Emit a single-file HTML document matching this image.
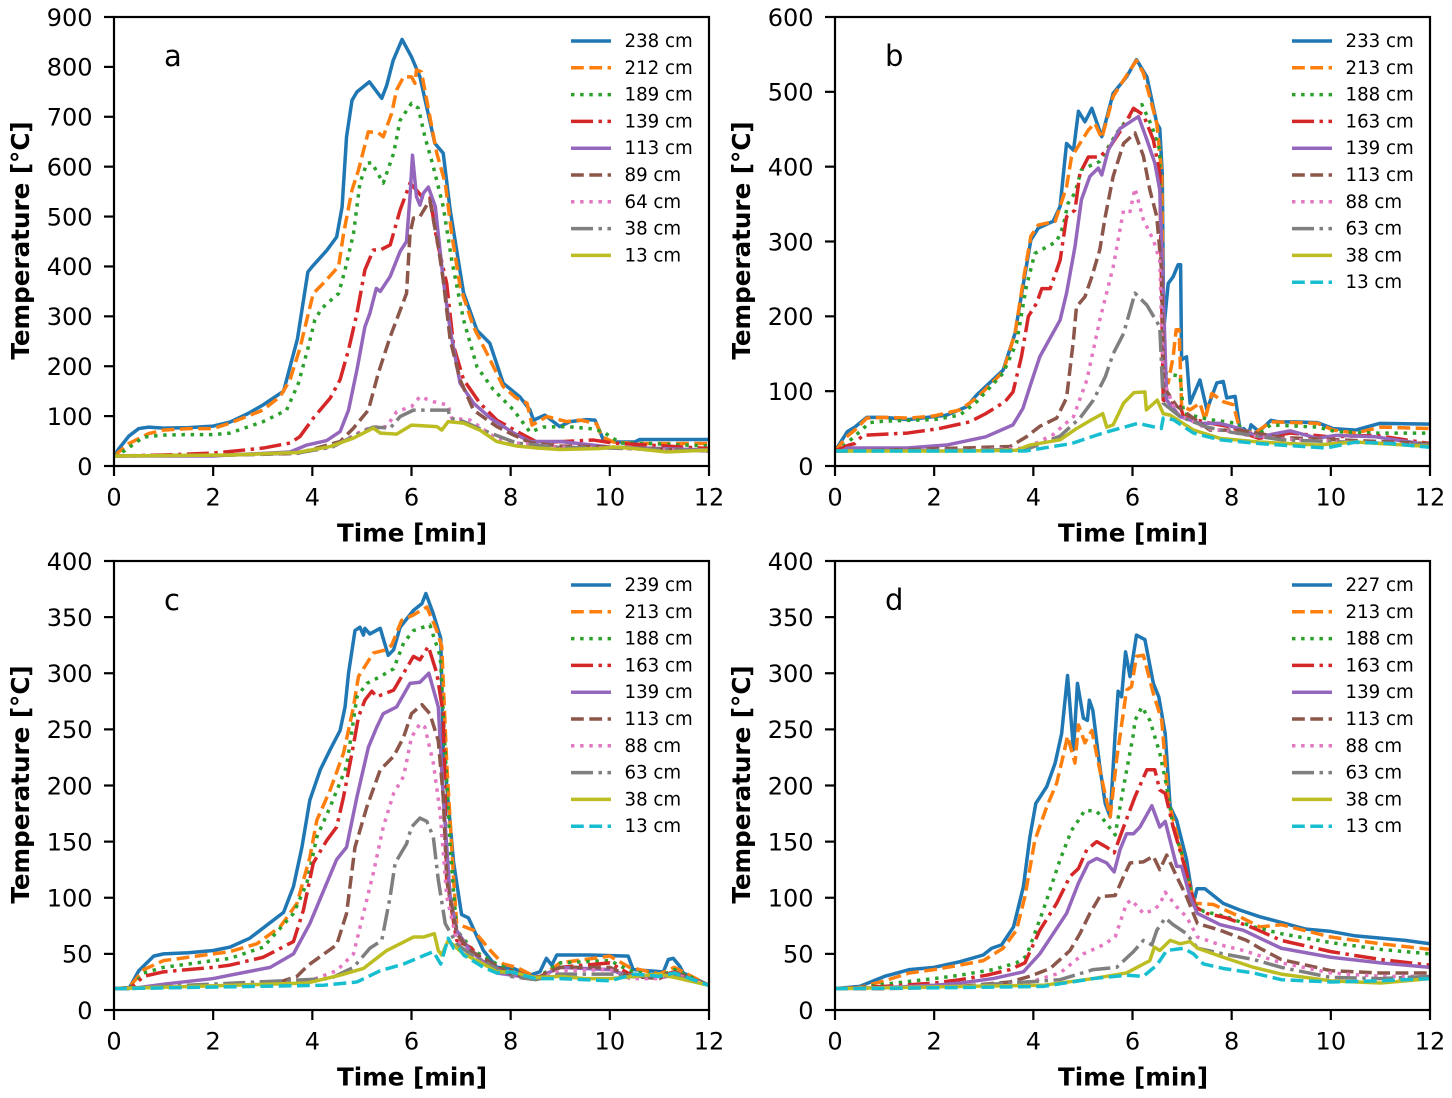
<!DOCTYPE html>
<html lang="en">
<head>
<meta charset="utf-8">
<title>Temperature vs time panels</title>
<style>
html,body{margin:0;padding:0;background:#fff;}
svg{display:block;}
text{font-family:"DejaVu Sans","Liberation Sans",sans-serif;fill:#000;}
</style>
</head>
<body>
<svg id="chart" xmlns="http://www.w3.org/2000/svg" width="1452" height="1098" viewBox="0 0 1452 1098"></svg>
<script>
// Shared axis data
const xTicks = [0,2,4,6,8,10,12];
const yTicksA = [0,100,200,300,400,500,600,700,800,900];
const yTicksB = [0,100,200,300,400,500,600];
const yTicksCD = [0,50,100,150,200,250,300,350,400];
const legendLabelsA = ['238 cm','212 cm','189 cm','139 cm','113 cm','89 cm','64 cm','38 cm','13 cm'];
const legendLabelsB = ['233 cm','213 cm','188 cm','163 cm','139 cm','113 cm','88 cm','63 cm','38 cm','13 cm'];
const legendLabelsC = ['239 cm','213 cm','188 cm','163 cm','139 cm','113 cm','88 cm','63 cm','38 cm','13 cm'];
const legendLabelsD = ['227 cm','213 cm','188 cm','163 cm','139 cm','113 cm','88 cm','63 cm','38 cm','13 cm'];

// Panel a
const a1T=[0,.1,.3,.5,.7,1,1.5,2,2.34,2.7,3,3.42,3.7,3.91,4.0,4.29,4.49,4.6,4.69,4.8,4.9,5.15,5.4,5.5,5.63,5.81,6.0,6.17,6.47,6.64,6.78,7.05,7.32,7.58,7.85,8.19,8.39,8.46,8.69,8.99,9.2,9.53,9.7,9.8,9.87,10.14,10.5,10.6,12];
const a1V=[20,35,60,75,78,76,77,80,88,105,122,150,255,389,400,432,459,519,660,733,750,770,737,763,813,855,820,780,647,627,513,347,272,246,166,138,112,92,102,79,89,93,92,69,52,48,48,53,53];
const a2T=[0,.3,.7,1,1.5,2,2.34,3,3.35,3.55,3.75,3.92,4.02,4.22,4.53,4.63,4.8,4.93,5.13,5.33,5.43,5.6,5.7,5.84,6,6.07,6.1,6.2,6.37,6.51,6.68,6.81,6.98,7.25,7.52,7.85,8.12,8.33,8.43,8.73,9.13,9.4,9.73,9.84,10.07,10.5,12];
const a2V=[20,45,65,72,75,75,86,112,139,173,236,306,346,366,400,466,553,593,670,668,660,707,754,780,780,767,794,790,700,627,567,466,360,279,226,159,136,126,82,99,89,92,85,59,48,45,45];
const a3T=[0,.2,.6,1,1.5,2,2.34,3.01,3.48,3.72,3.92,4.05,4.19,4.53,4.66,4.83,4.96,5.1,5.2,5.43,5.64,5.77,6,6.14,6.27,6.44,6.64,6.81,7.05,7.32,7.65,8.06,8.39,8.66,9.13,9.6,9.87,10,10.24,10.8,12];
const a3V=[20,30,58,62,63,63,66,89,112,166,239,293,316,346,393,466,567,607,608,567,627,693,727,717,660,600,520,413,293,199,153,112,68,78,79,75,69,59,46,45,40];
const a4T=[0,1,2,2.34,3.01,3.55,3.75,4.02,4.36,4.56,4.73,4.9,5.06,5.23,5.37,5.57,5.77,5.97,6.1,6.21,6.37,6.51,6.71,6.85,7.05,7.38,7.72,8.26,8.53,8.79,9.67,10.07,12];
const a4V=[20,22,26,29,36,46,59,96,136,173,233,306,393,433,433,443,513,567,553,540,540,453,366,240,173,126,92,62,48,48,52,46,35];
const a5T=[0,1,2,2.34,3.55,3.89,4.29,4.56,4.73,4.9,5.06,5.16,5.29,5.37,5.57,5.77,5.9,5.97,6.02,6.1,6.17,6.24,6.34,6.48,6.64,6.78,6.98,7.25,7.59,8.06,8.39,9,10,12];
const a5V=[20,20,20,22,28,42,51,69,112,193,279,306,356,350,380,430,450,540,623,540,523,547,559,520,373,273,166,126,96,66,49,49,38,32];
const a6T=[0,2.34,3.69,4.56,4.83,5.13,5.33,5.57,5.9,5.97,6.04,6.17,6.37,6.54,6.64,6.78,6.98,7.25,7.72,8.06,8.39,9,10,12];
const a6V=[20,22,25,49,76,112,186,259,346,466,497,500,533,440,373,253,173,112,79,62,47,40,38,30];
const a7T=[0,2.34,3.7,4.4,5.03,5.23,5.5,5.7,6,6.17,6.44,6.74,6.81,7.18,7.72,8.12,9,10,12];
const a7V=[20,22,26,38,72,78,79,109,119,139,129,122,96,92,55,46,38,36,30];
const a8T=[0,2.34,3.7,4.4,5.03,5.23,5.57,5.77,6.04,6.44,6.74,6.78,7.05,7.59,8.12,9,10,12];
const a8V=[20,22,26,38,70,78,76,99,112,112,112,96,89,66,46,37,36,30];
const a9T=[0,2.34,3.69,4.36,4.83,5.23,5.37,5.7,6,6.51,6.61,6.74,7.05,7.38,7.72,8.12,8.53,9,9.8,10.07,10.5,11.15,12];
const a9V=[20,22,27,39,56,76,66,64,82,79,72,89,86,72,49,40,36,33,35,38,35,28,32];

// Panel b
const b1T=[0,.25,.4,.64,1,1.47,2,2.25,2.65,2.86,3.39,3.63,3.8,3.95,4.1,4.4,4.54,4.67,4.81,4.91,5.04,5.18,5.38,5.61,5.88,6.08,6.29,6.49,6.55,6.6,6.63,6.72,6.82,6.92,6.97,6.99,7.09,7.16,7.36,7.5,7.7,7.83,7.9,8.07,8.17,8.24,8.35,8.39,8.55,8.79,8.95,9.26,9.73,10.05,10.5,10.99,12];
const b1V=[20,46,52,65,65,62,66,68,79,95,128,177,244,302,318,327,347,431,422,474,460,478,440,498,520,543,520,458,451,391,182,244,253,269,269,142,146,84,115,75,111,113,91,93,48,50,44,55,46,61,59,59,58,50,48,57,56];
const b2T=[0,.25,.4,.64,1,1.5,2,2.52,2.86,3.39,3.63,3.8,3.95,4.1,4.44,4.67,4.77,5.11,5.24,5.38,5.61,5.95,6.08,6.22,6.49,6.59,6.63,6.72,6.82,6.88,6.94,6.99,7.16,7.36,7.46,7.6,7.83,8.03,8.17,8.47,8.79,9.73,10.05,10.5,11,12];
const b2V=[20,40,48,64,65,64,67,75,91,126,177,249,307,322,327,373,413,449,458,438,494,529,542,525,458,391,124,111,146,182,182,80,75,84,62,97,86,82,48,44,59,57,48,44,52,50];
const b3T=[0,.2,.4,.7,1,2,2.52,2.86,3.39,3.66,3.86,4.03,4.47,4.6,4.7,4.84,4.97,5.34,5.68,6.02,6.19,6.39,6.55,6.62,6.96,7.03,7.56,8.1,8.24,8.47,8.79,9.73,10.1,10.9,12];
const b3V=[20,28,40,58,60,62,68,86,124,164,240,284,300,320,351,365,396,407,445,474,483,454,422,124,120,70,62,57,48,39,55,52,46,44,44];
const b4T=[0,.28,.4,.56,.83,1.46,2.1,2.72,3.04,3.43,3.59,3.76,3.9,4.07,4.17,4.34,4.54,4.67,4.84,4.94,5.11,5.34,5.55,5.82,6.02,6.22,6.42,6.55,6.62,6.96,7.03,7.5,8,8.2,8.55,9.18,9.97,10.9,12];
const b4V=[20,28,30,41,42,44,50,59,70,86,99,146,200,218,237,237,275,333,342,391,413,413,427,454,478,469,436,391,88,80,66,58,52,45,37,44,39,41,30];
const b5T=[0,.13,.25,1.46,2.25,3.04,3.59,3.79,3.94,4.13,4.54,4.67,4.84,4.97,5.14,5.31,5.38,5.51,5.75,6.12,6.29,6.45,6.55,6.63,6.69,6.96,7.36,7.76,8.16,8.55,9.18,9.73,10.1,10.9,12];
const b5V=[20,20,24,24,28,39,55,77,108,146,195,231,293,356,387,398,389,422,451,467,436,405,369,213,88,66,57,57,50,39,47,37,41,39,28];
const b6T=[0,1,2.52,3.53,3.86,4.13,4.47,4.67,4.81,4.87,5.04,5.18,5.34,5.45,5.61,5.82,6.05,6.22,6.35,6.49,6.59,6.63,6.89,7.56,8.17,9,12];
const b6V=[20,21,24,26,39,53,64,91,169,213,226,253,289,333,387,431,445,414,369,333,258,106,80,48,48,38,30];
const b7T=[0,2.52,3.86,4.4,4.81,5.08,5.34,5.61,5.82,5.95,6.05,6.22,6.42,6.55,6.62,6.89,7.5,8,8.2,9,12];
const b7V=[20,21,24,42,66,115,195,266,342,340,371,329,302,275,115,70,50,46,42,36,28];
const b8T=[0,2.52,3.86,4.54,4.94,5.21,5.45,5.61,5.82,6.05,6.29,6.55,6.62,6.96,7.5,8,9,12];
const b8V=[20,21,22,40,64,88,119,150,177,231,215,186,84,66,52,45,35,28];
const b9T=[0,2.52,3.66,3.93,4.54,4.87,5.18,5.4,5.48,5.61,5.82,6.03,6.25,6.28,6.5,6.62,6.76,7.23,7.76,8.55,9.73,10.5,12];
const b9V=[20,20,21,28,35,50,62,70,52,55,84,98,99,75,88,70,68,48,37,32,28,32,26];
const b10T=[0,2.52,3.83,4.77,5.4,6.11,6.58,6.62,6.82,7.23,7.76,8.55,9.9,10.5,11.2,12];
const b10V=[20,20,20,30,44,57,50,64,62,44,35,30,24,32,30,25];

// Panel c
const c1T=[0,.3,.5,.8,1,1.5,2,2.34,2.74,3.42,3.62,3.79,3.95,4.16,4.36,4.56,4.66,4.73,4.86,4.96,5.03,5.06,5.16,5.37,5.53,5.64,5.77,6.04,6.21,6.29,6.44,6.59,6.64,6.85,7.01,7.15,7.45,7.72,8.06,8.39,8.59,8.72,8.83,8.93,9.6,10.37,10.47,11.08,11.18,11.28,11.41,11.48,12];
const c1V=[19,19,35,48,50,51,53,56,64,87,110,145,187,214,232,249,270,300,338,341,334,340,335,340,316,321,341,356,362,371,353,331,235,131,85,82,53,38,37,31,34,46,40,49,49,48,36,34,45,46,39,33,22];
const c2T=[0,.3,.6,1,1.5,2,2.34,2.88,3.35,3.69,3.95,4.09,4.36,4.63,4.83,4.93,5.23,5.5,5.6,5.8,6.04,6.31,6.51,6.61,6.71,6.85,6.91,7.25,7.59,7.85,8.12,8.39,8.55,9,9.5,10,10.4,11,11.3,12];
const c2V=[19,20,36,44,47,50,52,59,74,95,136,169,196,229,270,297,318,321,325,347,352,359,338,324,220,116,77,71,53,41,38,32,28,42,45,48,38,32,38,22];
const c3T=[0,.35,.6,1,2,2.34,3.01,3.62,3.89,4.09,4.36,4.69,4.9,5.1,5.37,5.64,5.84,6.04,6.37,6.58,6.64,6.78,6.91,7.25,7.72,8,8.5,9,10,10.4,11,11.3,12];
const c3V=[19,20,33,38,44,46,56,86,113,154,181,217,279,291,297,304,327,338,343,315,264,145,71,53,41,36,28,42,44,35,30,36,22];
const c4T=[0,.35,.6,1,2,2.34,3.01,3.62,3.82,4.02,4.29,4.49,4.63,4.8,4.93,5.06,5.2,5.3,5.64,5.84,6.04,6.17,6.34,6.51,6.64,6.71,6.91,7.18,7.59,8,8.5,9,10,10.4,11,11.3,12];
const c4V=[19,20,30,34,38,40,47,61,89,131,151,163,190,229,261,276,284,279,285,300,315,312,324,300,264,116,62,56,38,35,29,38,42,32,30,34,22];
const c5T=[0,.5,1,2,2.34,3.15,3.62,3.95,4.29,4.49,4.69,4.9,5.13,5.3,5.43,5.7,5.97,6.17,6.35,6.54,6.64,6.78,6.91,7.18,7.72,8.5,9,10,10.4,11,11.3,12];
const c5V=[19,20,23,28,31,38,50,77,113,134,145,190,234,252,264,270,291,292,300,270,190,101,71,53,33,28,38,36,30,30,33,22];
const c6T=[0,2.34,3.35,3.69,3.92,4.49,4.69,4.86,5.1,5.37,5.64,5.84,6,6.21,6.37,6.54,6.64,6.71,6.91,7.18,8,8.5,9,10,10.4,11,11.3,12];
const c6V=[19,21,25,30,40,58,86,145,181,214,226,243,264,272,264,240,190,116,68,53,32,28,38,38,30,28,34,22];
const c7T=[0,3.89,4.49,4.83,5.03,5.23,5.43,5.64,5.84,6,6.17,6.27,6.44,6.58,6.71,6.91,7.18,8,8.5,9,10,10.4,11,11.3,12];
const c7V=[19,25,35,50,86,122,163,193,208,243,255,252,220,175,101,62,50,30,27,35,36,28,28,32,22];
const c8T=[0,4.36,4.83,5.16,5.4,5.57,5.67,5.9,6,6.17,6.31,6.44,6.54,6.68,6.91,7.18,8,8.5,9,10,11,11.3,12];
const c8V=[19,28,38,55,62,101,131,148,163,171,168,154,116,77,59,50,30,27,32,32,30,30,22];
const c9T=[0,3.89,4.56,5.03,5.5,6.04,6.24,6.46,6.54,6.61,6.74,7.05,7.45,7.72,8,8.5,9,9.5,10,11,12];
const c9V=[19,24,31,37,53,65,65,68,53,49,62,50,41,34,34,29,30,28,28,32,22];
const c10T=[0,4.22,4.9,5.37,5.84,6.44,6.59,6.74,6.85,6.95,7.05,7.45,7.72,8,8.5,9,9.5,10,10.5,11,11.3,12];
const c10V=[19,22,25,35,41,52,41,64,55,56,49,38,33,34,28,28,27,26,32,30,33,22];

// Panel d
const d1T=[0,.5,1,1.5,2,2.52,2.99,3.16,3.36,3.6,3.8,3.93,4.05,4.27,4.44,4.57,4.69,4.81,4.89,5.01,5.09,5.13,5.2,5.34,5.45,5.55,5.65,5.71,5.78,5.86,5.95,6.08,6.25,6.42,6.53,6.66,6.76,6.89,7.09,7.23,7.3,7.46,7.83,8.17,8.57,9,9.5,10,10.5,11,11.5,12];
const d1V=[19,21,30,36,38,43,49,55,58,74,110,154,184,199,220,246,298,232,291,260,258,276,267,217,184,172,246,284,279,319,297,334,330,291,279,246,181,169,134,95,108,108,95,89,83,78,72,70,66,64,62,59];
const d2T=[0,.5,1,1.5,2,2.52,2.99,3.39,3.66,3.83,4.03,4.27,4.47,4.6,4.69,4.84,4.91,5.04,5.18,5.34,5.55,5.68,5.88,5.98,6.08,6.22,6.42,6.59,6.72,6.96,7.16,7.26,7.63,8.17,8.57,9,10,11,12];
const d2V=[19,20,26,33,36,40,44,55,71,101,151,181,202,226,244,220,254,238,249,214,172,223,285,288,315,316,282,258,187,145,110,95,94,83,74,76,65,59,54];
const d3T=[0,.5,1,2,2.52,3.19,3.66,3.86,4.2,4.54,4.77,4.91,5.04,5.28,5.48,5.65,5.82,6.02,6.05,6.19,6.35,6.55,6.69,6.82,7.03,7.23,7.43,7.9,8.44,9,10,11,12];
const d3V=[19,20,23,28,31,36,42,48,89,134,160,169,178,177,166,156,199,246,258,270,258,229,199,163,134,95,88,83,74,68,60,54,50];
const d4T=[0,.5,1,2,2.52,3.06,3.53,3.83,4.13,4.47,4.74,4.91,5.08,5.28,5.48,5.63,5.82,6.05,6.29,6.45,6.55,6.66,6.82,7.09,7.26,7.5,7.9,8.44,9,10,11,12];
const d4V=[19,20,21,24,27,31,36,42,71,95,119,126,143,150,145,140,163,190,214,214,196,193,163,122,92,86,82,73,62,52,45,40];
const d5T=[0,1,2,2.52,3.19,3.8,4.13,4.4,4.67,4.91,5.11,5.28,5.48,5.63,5.75,5.88,6.02,6.15,6.39,6.55,6.66,6.89,6.99,7.16,7.31,7.77,8.24,8.57,9,10,11,12];
const d5V=[19,20,22,24,28,34,50,68,86,113,131,135,131,123,143,157,157,163,182,163,168,128,128,101,86,76,71,64,55,47,42,38];
const d6T=[0,1,2,2.52,3.53,3.93,4.34,4.74,4.94,5.14,5.34,5.65,5.82,5.95,6.22,6.42,6.55,6.69,6.89,7.09,7.31,7.77,8.3,8.57,9,10,11,12];
const d6V=[19,19,20,21,25,30,37,53,68,86,101,102,119,131,132,137,125,138,119,101,77,71,62,55,45,35,33,33];
const d7T=[0,2.52,3.86,4.54,5.01,5.41,5.65,5.88,5.98,6.22,6.42,6.55,6.66,6.89,7.09,7.31,7.77,8.24,9,10,11,12];
const d7V=[19,21,24,33,50,58,65,95,98,86,89,94,105,92,83,65,58,53,42,33,30,30];
const d8T=[0,2.52,4.54,5.21,5.68,6.02,6.22,6.39,6.49,6.66,6.82,7.09,7.31,7.83,8.44,9,10,11,12];
const d8V=[19,21,27,36,38,52,62,58,71,82,76,68,55,50,45,38,29,28,30];
const d9T=[0,2.52,4.2,5.21,5.88,6.35,6.44,6.55,6.76,6.96,7.16,7.31,7.83,8.44,9,10,11,12];
const d9V=[19,21,22,28,33,44,56,53,62,59,61,55,47,38,32,26,24,28];
const d10T=[0,2.52,4.2,5.21,5.88,6.22,6.49,6.69,7.03,7.23,7.43,7.83,8.44,9,10,11,12];
const d10V=[19,20,21,28,31,30,40,53,55,50,41,37,33,27,25,26,28];

const colors = ['#1f77b4','#ff7f0e','#2ca02c','#d62728','#9467bd','#8c564b','#e377c2','#7f7f7f','#bcbd22','#17becf'];
const dashes = ['', '12.8 5.5', '3.45 5.7', '22 5.5 3.45 5.5'];

const panels = [
  {letter:'a',left:114,top:17,yMax:900,yTicks:yTicksA,labels:legendLabelsA,
   times:[a1T,a2T,a3T,a4T,a5T,a6T,a7T,a8T,a9T],temps:[a1V,a2V,a3V,a4V,a5V,a6V,a7V,a8V,a9V]},
  {letter:'b',left:835,top:17,yMax:600,yTicks:yTicksB,labels:legendLabelsB,
   times:[b1T,b2T,b3T,b4T,b5T,b6T,b7T,b8T,b9T,b10T],temps:[b1V,b2V,b3V,b4V,b5V,b6V,b7V,b8V,b9V,b10V]},
  {letter:'c',left:114,top:561,yMax:400,yTicks:yTicksCD,labels:legendLabelsC,
   times:[c1T,c2T,c3T,c4T,c5T,c6T,c7T,c8T,c9T,c10T],temps:[c1V,c2V,c3V,c4V,c5V,c6V,c7V,c8V,c9V,c10V]},
  {letter:'d',left:835,top:561,yMax:400,yTicks:yTicksCD,labels:legendLabelsD,
   times:[d1T,d2T,d3T,d4T,d5T,d6T,d7T,d8T,d9T,d10T],temps:[d1V,d2V,d3V,d4V,d5V,d6V,d7V,d8V,d9V,d10V]}
];

const SVGNS = 'http://www.w3.org/2000/svg';
const root = document.getElementById('chart');
const plotW = 595, plotH = 449, xMax = 12;

function make(tag, attrs, parent){
  const el = document.createElementNS(SVGNS, tag);
  for (const k in attrs) el.setAttribute(k, attrs[k]);
  parent.appendChild(el);
  return el;
}

panels.forEach(function(p){
  const xAxis = function(t){ return p.left + t / xMax * plotW; };
  const yAxis = function(v){ return p.top + plotH - v / p.yMax * plotH; };
  const bottom = p.top + plotH;

  const g = make('g', {}, root);
  
  

  const clip = make('clipPath', {id:'clip-' + p.letter}, g);
  make('rect', {x:p.left, y:p.top, width:plotW, height:plotH}, clip);

  const linesG = make('g', {'clip-path':'url(#clip-' + p.letter + ')'}, g);
  
  

  p.labels.forEach(function(label, i){
    const ts = p.times[i], vs = p.temps[i];
    let d = '';
    for (let k = 0; k < ts.length; k++){
      d += (k ? 'L' : 'M') + xAxis(ts[k]).toFixed(2) + ' ' + yAxis(vs[k]).toFixed(2);
    }
    const line = make('path', {d:d, fill:'none', stroke:colors[i], 'stroke-width':3.5, 'stroke-linejoin':'round'}, linesG);
    if (dashes[i % 4]) line.setAttribute('stroke-dasharray', dashes[i % 4]);
    
    
  });

  // frame
  const frame = make('rect', {x:p.left, y:p.top, width:plotW, height:plotH, fill:'none', stroke:'#000', 'stroke-width':2.2}, g);
  
  

  // x ticks
  xTicks.forEach(function(t){
    const tick = make('line', {x1:xAxis(t), x2:xAxis(t), y1:bottom, y2:bottom + 10, stroke:'#000', 'stroke-width':2.2}, g);
    
    
    const lab = make('text', {x:xAxis(t), y:bottom + 39.5, 'text-anchor':'middle', 'font-size':24}, g);
    lab.textContent = String(t);
    
    
  });

  // y ticks
  p.yTicks.forEach(function(v){
    const tick = make('line', {x1:p.left - 10, x2:p.left, y1:yAxis(v), y2:yAxis(v), stroke:'#000', 'stroke-width':2.2}, g);
    
    
    const lab = make('text', {x:p.left - 21.5, y:yAxis(v) + 8.8, 'text-anchor':'end', 'font-size':24}, g);
    lab.textContent = String(v);
    
    
  });

  // axis titles
  const xTitle = make('text', {x:p.left + plotW / 2 + 0.5, y:bottom + 75.5, 'text-anchor':'middle', 'font-size':24.6, 'font-weight':'bold'}, g);
  xTitle.textContent = 'Time [min]';
  
  

  const yx = p.left - 85, yy = p.top + plotH / 2 - 1;
  const yTitle = make('text', {x:yx, y:yy, 'text-anchor':'middle', 'font-size':24.6, 'font-weight':'bold', transform:'rotate(-90 ' + yx + ' ' + yy + ')'}, g);
  yTitle.textContent = 'Temperature [\u00B0C]';
  
  

  // panel letter
  const tag = make('text', {x:p.left + 50, y:p.top + 49, 'font-size':29}, g);
  tag.textContent = p.letter;
  
  

  // legend
  const legend = make('g', {}, g);
  
  
  p.labels.forEach(function(label, i){
    const ly = p.top + 24 + i * 26.8;
    const entry = make('g', {}, legend);
    
    
    const swatch = make('line', {x1:p.left + 457, x2:p.left + 497, y1:ly, y2:ly, stroke:colors[i], 'stroke-width':3.5}, entry);
    if (dashes[i % 4]) swatch.setAttribute('stroke-dasharray', dashes[i % 4]);
    const txt = make('text', {x:p.left + 510.5, y:ly + 6, 'font-size':18.2}, entry);
    txt.textContent = label;
  });
});
</script>
</body>
</html>
